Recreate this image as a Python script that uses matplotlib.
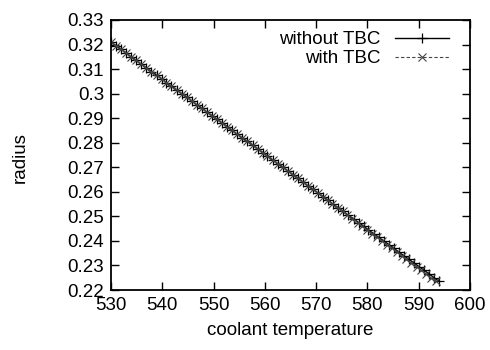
import matplotlib
matplotlib.use('Agg')
import matplotlib.pyplot as plt

# Data (radius vs coolant temperature)
radius = [0.3210, 0.3195, 0.3180, 0.3165, 0.3150, 0.3135, 0.3120, 0.3105,
          0.3090, 0.3075, 0.3060, 0.3045, 0.3030, 0.3015, 0.3000, 0.2985,
          0.2970, 0.2955, 0.2940, 0.2925, 0.2910, 0.2895, 0.2880, 0.2865,
          0.2850, 0.2835, 0.2820, 0.2805, 0.2790, 0.2775, 0.2760, 0.2745,
          0.2730, 0.2715, 0.2700, 0.2685, 0.2670, 0.2655, 0.2640, 0.2625,
          0.2610, 0.2595, 0.2580, 0.2565, 0.2550, 0.2535, 0.2520, 0.2505,
          0.2490, 0.2475, 0.2460, 0.2445, 0.2430, 0.2415, 0.2400, 0.2385,
          0.2370, 0.2355, 0.2340, 0.2325, 0.2310, 0.2295, 0.2280, 0.2265,
          0.2250, 0.2235]

temp_without_tbc = [530.0, 531.0, 532.0, 533.0, 533.9, 534.9, 535.9, 536.9,
                    537.9, 538.9, 539.9, 540.8, 541.8, 542.8, 543.8, 544.8,
                    545.8, 546.7, 547.7, 548.7, 549.7, 550.7, 551.7, 552.7,
                    553.6, 554.6, 555.6, 556.6, 557.6, 558.6, 559.6, 560.5,
                    561.5, 562.5, 563.5, 564.5, 565.5, 566.4, 567.4, 568.4,
                    569.4, 570.4, 571.4, 572.4, 573.3, 574.3, 575.3, 576.3,
                    577.3, 578.3, 579.3, 580.2, 581.2, 582.2, 583.2, 584.2,
                    585.2, 586.1, 587.1, 588.1, 589.1, 590.1, 591.1, 592.1,
                    593.0, 594.0]

temp_with_tbc = [530.0, 531.0, 532.0, 533.0, 533.9, 534.9, 535.9, 536.9,
                 537.9, 538.9, 539.9, 540.8, 541.8, 542.8, 543.8, 544.8,
                 545.8, 546.7, 547.7, 548.7, 549.7, 550.7, 551.7, 552.7,
                 553.6, 554.6, 555.6, 556.6, 557.6, 558.6, 559.6, 560.5,
                 561.5, 562.5, 563.5, 564.5, 565.5, 566.4, 567.4, 568.4,
                 569.4, 570.4, 571.3, 572.3, 573.2, 574.2, 575.2, 576.1,
                 577.1, 578.1, 579.0, 580.0, 580.9, 581.9, 582.9, 583.8,
                 584.8, 585.7, 586.7, 587.6, 588.6, 589.6, 590.5, 591.5,
                 592.4, 593.3]

x_ticks = [530, 540, 550, 560, 570, 580, 590, 600]
y_ticks = [0.22, 0.23, 0.24, 0.25, 0.26, 0.27, 0.28, 0.29, 0.30, 0.31, 0.32, 0.33]
y_tick_labels = ['0.22', '0.23', '0.24', '0.25', '0.26', '0.27', '0.28',
                 '0.29', '0.3', '0.31', '0.32', '0.33']

plt.rcParams['font.family'] = ['Liberation Sans', 'DejaVu Sans']
plt.rcParams['font.size'] = 13.5

fig = plt.figure(figsize=(4.9, 3.5), dpi=100)
ax = fig.add_axes([0.2265, 0.1714, 0.7325, 0.7715])

ax.plot(temp_without_tbc, radius, color='black', linestyle='-', linewidth=1.0,
        marker='+', markersize=7, markeredgewidth=0.9, label='without TBC')
ax.plot(temp_with_tbc, radius, color='#444444', linestyle=(0, (3, 2)), linewidth=0.8,
        marker='x', markersize=5.5, markeredgewidth=0.8, label='with TBC')

ax.set_xlim(530, 600)
ax.set_ylim(0.22, 0.33)
ax.set_xticks(x_ticks)
ax.set_yticks(y_ticks)
ax.set_yticklabels(y_tick_labels)

ax.tick_params(direction='in', length=6, width=1.0, top=True, right=True,
               labelsize=13.5, pad=5)
for s in ax.spines.values():
    s.set_linewidth(1.3)

ax.set_xlabel('coolant temperature', fontsize=13.5, labelpad=6)
ax.set_ylabel('radius', fontsize=13.5, rotation=90, va='center', ha='center')
ax.yaxis.set_label_coords(-0.253, 0.49)

ax.legend(loc='upper right', bbox_to_anchor=(1.0, 1.035), frameon=False,
          markerfirst=False, handlelength=2.9, handletextpad=0.75,
          labelspacing=0.1, borderaxespad=0.8, borderpad=0.3, fontsize=13.5)

fig.savefig('out.png', dpi=100)
